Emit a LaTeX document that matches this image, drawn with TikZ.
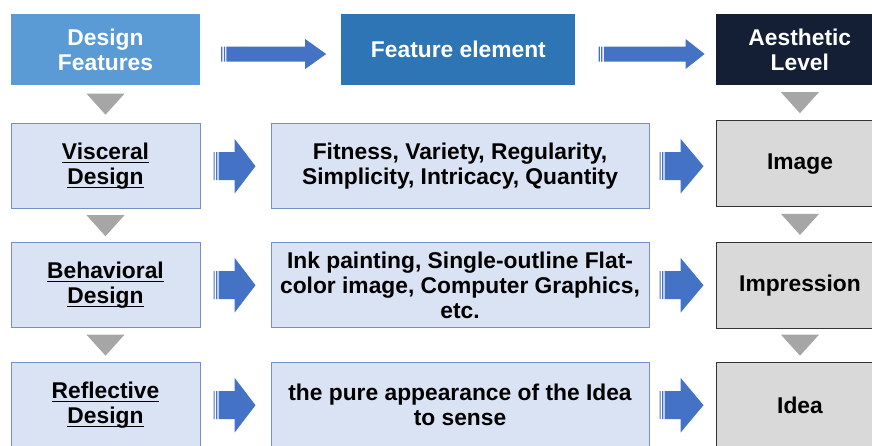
\documentclass[tikz,border=0pt]{standalone}
\usepackage{fontspec}
\setmainfont{Liberation Sans}
\usetikzlibrary{positioning,calc}
\definecolor{headblue}{HTML}{5B9BD5}
\definecolor{featblue}{HTML}{2E75B6}
\definecolor{levelnavy}{HTML}{141F36}
\definecolor{paleblue}{HTML}{DAE3F3}
\definecolor{paleedge}{HTML}{7391C6}
\definecolor{boxgray}{HTML}{D9D9D9}
\definecolor{trigray}{HTML}{A6A6A6}
\definecolor{arrowblue}{HTML}{4472C4}
\newcommand*{\ulword}[1]{\setbox0\hbox{#1}\rlap{\rule[-3.5pt]{\wd0}{1.4pt}}\box0}
% striped block arrow: start, end, shaft half, head half, head length
\newcommand*{\blockarrow}[5]{\fill[arrowblue] let \p1=(#1), \p2=(#2) in
  (\x1,\y1-#3) rectangle (\x1+1.2pt,\y1+#3)
  (\x1+2.6pt,\y1-#3) rectangle (\x1+3.8pt,\y1+#3)
  (\x1+5.2pt,\y1-#3) -- (\x2-#5,\y1-#3) -- (\x2-#5,\y1-#4) -- (\x2,\y1)
  -- (\x2-#5,\y1+#4) -- (\x2-#5,\y1+#3) -- (\x1+5.2pt,\y1+#3) -- cycle;}
\newcommand*{\downtri}[2]{\fill[trigray] let \p1=($(#1.south)!0.5!(#2.north)$) in
  (\x1-19pt,\y1+10.5pt) -- (\x1+19pt,\y1+10.5pt) -- (\x1,\y1-10.5pt) -- cycle;}

\begin{document}
\begin{tikzpicture}[
  txt/.style={font=\fontsize{22.8pt}{25pt}\selectfont\bfseries, align=center, inner sep=0pt},
  headbox/.style={txt, text=white, minimum height=71pt},
  palebox/.style={txt, fill=paleblue, draw=paleedge, line width=1pt, minimum height=85pt},
  graybox/.style={txt, fill=boxgray, draw=black!80, line width=1pt, minimum height=86pt, minimum width=168pt}]
\useasboundingbox (0,0) rectangle (872pt,-445pt);
\clip (0,0) rectangle (872pt,-445pt);
% header row
\node (DF) [headbox, fill=headblue, minimum width=189pt] at (105.5pt,-49.5pt) {Design\\Features};
\node (FE) [headbox, fill=featblue, minimum width=234pt, right=141pt of DF] {Feature element};
\node (AL) [headbox, fill=levelnavy, minimum width=168pt, right=140pt of FE] {Aesthetic\\Level};
% three levels
\node (VD) [palebox, minimum width=189pt, below=38pt of DF] {\ulword{Visceral}\\\ulword{Design}};
\node (FV) [palebox, minimum width=378pt, right=70pt of VD] {Fitness, Variety, Regularity,\\Simplicity, Intricacy, Quantity};
\node (IM) [graybox, right=66pt of FV, yshift=2.5pt] {Image};
\node (BD) [palebox, minimum width=189pt, below=33pt of VD] {\ulword{Behavioral}\\\ulword{Design}};
\node (IP) [palebox, minimum width=378pt, right=70pt of BD] {Ink painting, Single-outline Flat-\\color image, Computer Graphics,\\etc.};
\node (IS) [graybox, right=66pt of IP] {Impression};
\node (RD) [palebox, minimum width=189pt, below=34pt of BD] {\ulword{Reflective}\\\ulword{Design}};
\node (PA) [palebox, minimum width=378pt, right=70pt of RD] {the pure appearance of the Idea\\to sense};
\node (ID) [graybox, right=66pt of PA] {Idea};
% arrows
\blockarrow{$(DF.east)+(21pt,-4.5pt)$}{$(FE.west)+(-15pt,-4.5pt)$}{7.5pt}{15pt}{21pt}
\blockarrow{$(FE.east)+(23pt,-4.5pt)$}{$(AL.west)+(-11pt,-4.5pt)$}{7.5pt}{15pt}{19pt}
\blockarrow{$(VD.east)+(13pt,0)$}{$(FV.west)+(-15pt,0)$}{14pt}{27.5pt}{21pt}
\blockarrow{$(FV.east)+(10pt,0)$}{$(IM.west)+(-12pt,-2.5pt)$}{14pt}{27.5pt}{23pt}
\blockarrow{$(BD.east)+(13pt,0)$}{$(IP.west)+(-15pt,0)$}{14pt}{27.5pt}{21pt}
\blockarrow{$(IP.east)+(10pt,0)$}{$(IS.west)+(-12pt,0)$}{14pt}{27.5pt}{23pt}
\blockarrow{$(RD.east)+(13pt,0)$}{$(PA.west)+(-15pt,0)$}{14pt}{27.5pt}{21pt}
\blockarrow{$(PA.east)+(10pt,0)$}{$(ID.west)+(-12pt,0)$}{14pt}{27.5pt}{23pt}
\downtri{DF}{VD}
\downtri{VD}{BD}
\downtri{BD}{RD}
\downtri{AL}{IM}
\downtri{IM}{IS}
\downtri{IS}{ID}
\end{tikzpicture}
\end{document}
